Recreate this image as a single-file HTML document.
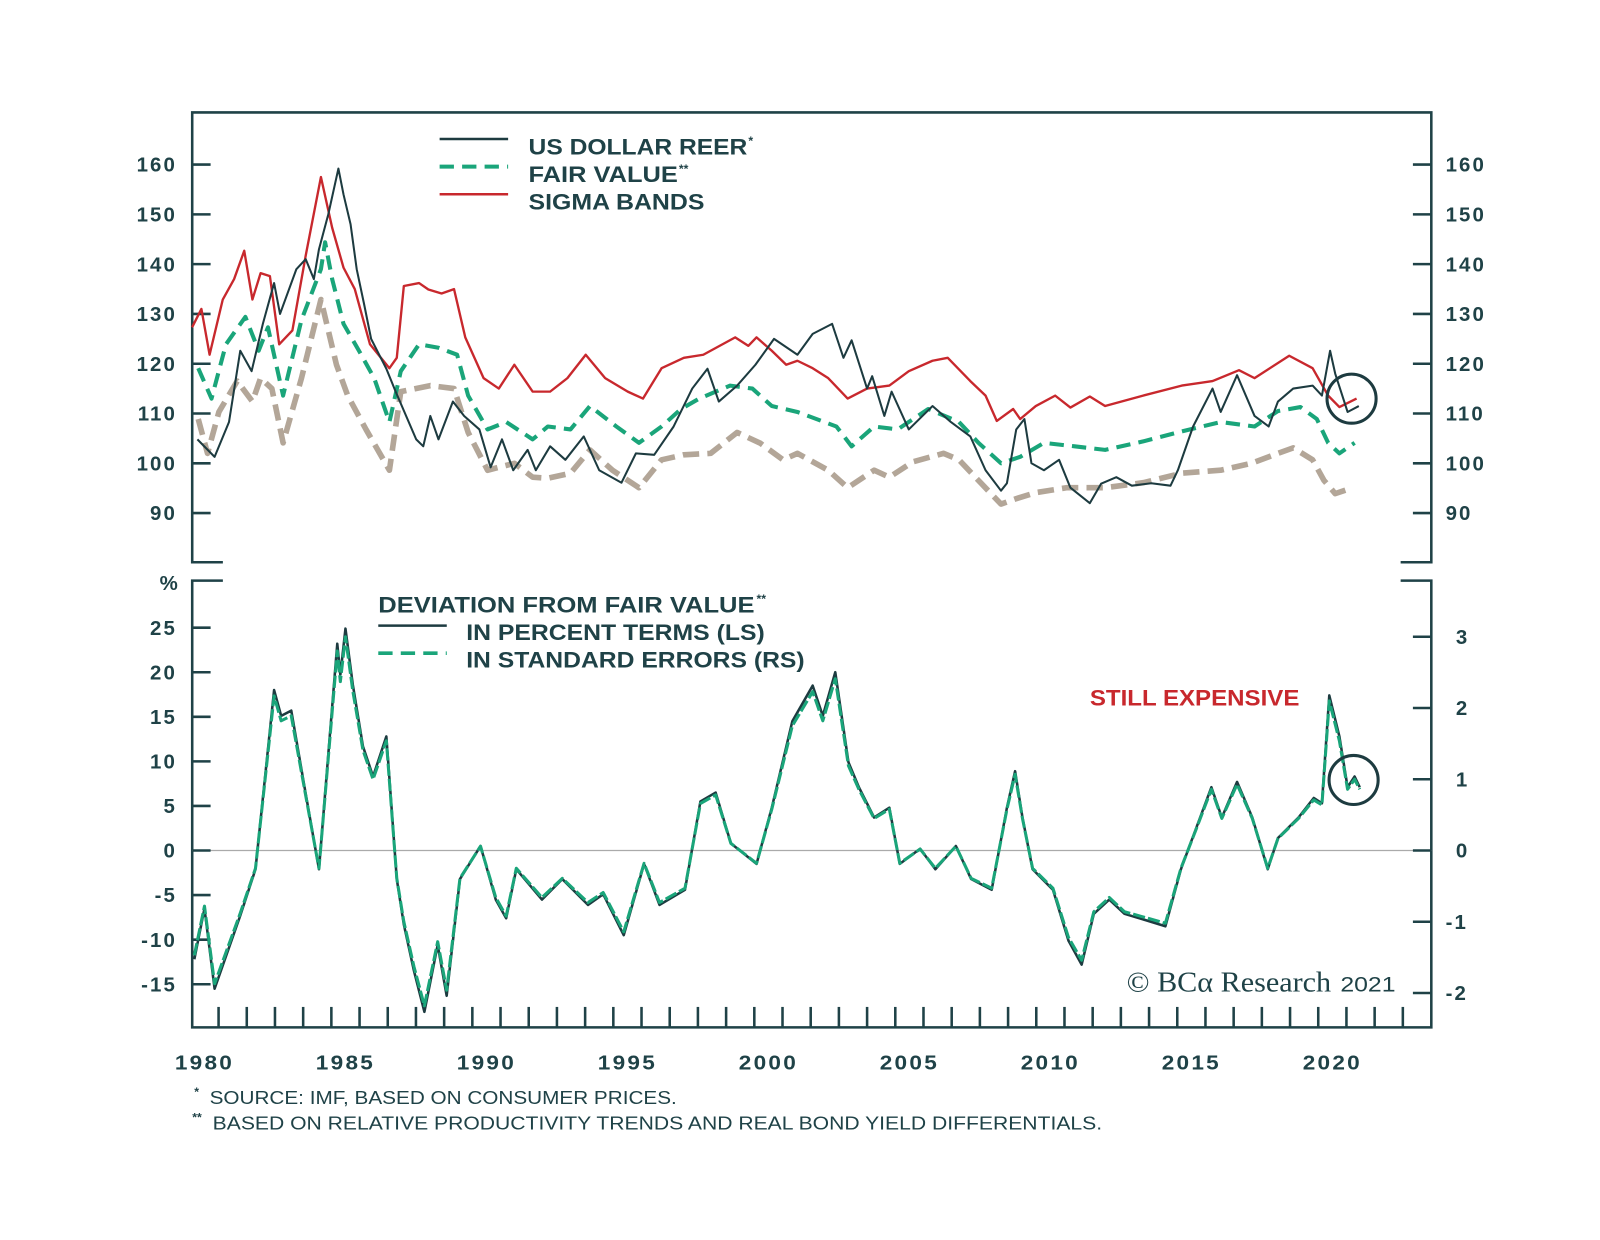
<!DOCTYPE html>
<html><head><meta charset="utf-8"><title>US Dollar REER vs Fair Value</title>
<style>
html,body{margin:0;padding:0;background:#fff;}
svg{display:block;}
text{font-family:"Liberation Sans",Arial,sans-serif;fill:#1f4247;}
.tk{font-size:20px;font-weight:bold;letter-spacing:2px;}
.lg{font-size:22px;font-weight:bold;}
.fn{font-size:18px;}
.ast{font-size:12px;font-weight:bold;}
</style></head>
<body>
<svg id="chart" width="1600" height="1240" viewBox="0 0 1565 1213" preserveAspectRatio="none" xmlns="http://www.w3.org/2000/svg">
  <g id="frame" stroke="#1f4247" stroke-width="2.5" fill="none">
    <path d="M218 550 H188 V110 H1400 V550 H1370"/>
    <path d="M218 568 H188 V1005 H1400 V568 H1370"/>
  </g>
  <line x1="188" x2="1400" y1="832" y2="832" stroke="#aaa" stroke-width="1.2"/>
  <g id="ticks"></g>
  <g id="series"></g>

  <g>
    <line x1="430" x2="497" y1="136" y2="136" stroke="#1d3b40" stroke-width="2.5"/>
    <text class="lg" x="517" y="151" textLength="214" lengthAdjust="spacingAndGlyphs">US DOLLAR REER</text>
    <text class="ast" x="732" y="142">*</text>
    <line x1="430" x2="497" y1="163" y2="163" stroke="#1aa57a" stroke-width="4" stroke-dasharray="14 8"/>
    <text class="lg" x="517" y="178" textLength="146" lengthAdjust="spacingAndGlyphs">FAIR VALUE</text>
    <text class="ast" x="664" y="169">**</text>
    <line x1="430" x2="497" y1="190" y2="190" stroke="#c8282d" stroke-width="2.5"/>
    <text class="lg" x="517" y="205" textLength="172" lengthAdjust="spacingAndGlyphs">SIGMA BANDS</text>
  </g>
  <g>
    <text class="lg" x="370" y="599" textLength="368" lengthAdjust="spacingAndGlyphs">DEVIATION FROM FAIR VALUE</text>
    <text class="ast" x="740" y="590">**</text>
    <line x1="370" x2="437" y1="612" y2="612" stroke="#1d3b40" stroke-width="2.5"/>
    <text class="lg" x="456" y="626" textLength="292" lengthAdjust="spacingAndGlyphs">IN PERCENT TERMS (LS)</text>
    <line x1="370" x2="437" y1="639" y2="639" stroke="#1aa57a" stroke-width="3.5" stroke-dasharray="14 8"/>
    <text class="lg" x="456" y="653" textLength="331" lengthAdjust="spacingAndGlyphs">IN STANDARD ERRORS (RS)</text>
  </g>
  <text x="1066" y="690" font-size="22" font-weight="bold" textLength="205" lengthAdjust="spacingAndGlyphs" style="fill:#c8282d">STILL EXPENSIVE</text>
  <circle cx="1322" cy="390" r="24" fill="none" stroke="#1d3b40" stroke-width="3"/>
  <circle cx="1324" cy="763" r="24" fill="none" stroke="#1d3b40" stroke-width="3"/>
  <text class="tk" x="166" y="577" text-anchor="middle">%</text>
  <text x="1102" y="970" style="font-family:'Liberation Serif',serif;font-size:28px;" textLength="200" lengthAdjust="spacingAndGlyphs">© BCα Research</text>
  <text x="1311" y="970" font-size="21" textLength="54" lengthAdjust="spacingAndGlyphs">2021</text>
  <text class="ast" x="190" y="1072">*</text>
  <text class="fn" x="205" y="1080" textLength="457" lengthAdjust="spacingAndGlyphs">SOURCE: IMF, BASED ON CONSUMER PRICES.</text>
  <text class="ast" x="188" y="1097">**</text>
  <text class="fn" x="208" y="1105" textLength="870" lengthAdjust="spacingAndGlyphs">BASED ON RELATIVE PRODUCTIVITY TRENDS AND REAL BOND YIELD DIFFERENTIALS.</text>
</svg>
<script>
// ---- data ----
const xTickYears = [1980,1985,1990,1995,2000,2005,2010,2015,2020];
const topTicks = [160,150,140,130,120,110,100,90];
const pctTicks = [25,20,15,10,5,0,-5,-10,-15];
const seTicks = [3,2,1,0,-1,-2];

const reerDates = [1979.75,1980.36,1980.87,1981.27,1981.67,1982.07,1982.47,1982.68,1983.26,1983.59,1983.88,1984.06,1984.39,1984.75,1984.93,1985.18,1985.4,1985.66,1985.91,1986.45,1986.78,1987.51,1987.76,1988.01,1988.3,1988.81,1989.21,1989.75,1990.15,1990.55,1990.95,1991.46,1991.75,1992.26,1992.8,1993.45,1994.0,1994.79,1995.3,1995.95,1996.64,1997.3,1997.84,1998.24,1998.89,1999.54,2000.2,2001.03,2001.57,2002.26,2002.66,2002.95,2003.5,2003.68,2004.11,2004.37,2004.98,2005.82,2006.47,2007.16,2007.7,2008.25,2008.46,2008.79,2009.08,2009.33,2009.77,2010.31,2010.71,2011.4,2011.8,2012.34,2012.89,2013.58,2014.26,2014.52,2015.06,2015.75,2016.04,2016.62,2017.24,2017.74,2018.07,2018.61,2019.3,2019.63,2019.92,2020.1,2020.54,2020.94];
const reerValues = [104.8,101.3,108.3,122.6,118.5,128,136.2,130,139,141,137,143,150,159.2,154,148,139,132,125,119,114.4,104.8,103.4,109.5,104.8,112.4,109.5,106.8,99.2,104.8,98.6,102.7,98.6,103.4,100.7,105.4,98.6,96.1,102,101.7,107.4,115,119,112.4,115.6,119.8,125,121.8,126,128,121.2,124.7,115,117.5,109.5,114.4,106.8,111.5,108.3,105.4,98.6,94.5,96,106.8,108.9,100,98.6,100.7,95.1,92,95.9,97.2,95.5,96,95.5,98.6,107.4,115,110.3,117.7,109.5,107.4,112.4,115,115.6,113.6,122.6,118,110.3,111.5];

const fvDates = [1979.78,1980.25,1980.76,1981.45,1981.92,1982.25,1982.79,1983.44,1984.13,1984.28,1984.53,1984.93,1985.48,1986.02,1986.56,1986.96,1987.61,1988.3,1988.96,1989.35,1990.04,1990.7,1991.64,1992.18,1992.98,1993.67,1994.61,1995.41,1996.21,1996.9,1997.55,1998.64,1999.43,2000.12,2001.03,2002.41,2002.95,2003.75,2004.58,2005.67,2006.76,2007.45,2008.25,2008.93,2009.77,2010.86,2011.94,2013.29,2014.66,2016.04,2017.24,2018.07,2018.87,2019.45,2019.85,2020.25,2020.79];
const fvValues = [119.1,113,123.9,129.4,122.6,127.3,113.6,128.8,139,144.4,137,128,122.6,117.1,108.3,118.5,123.9,123.2,121.8,113.6,106.8,108.3,104.8,107.4,106.8,111.5,107.4,104.1,107.4,110.9,113,115.6,115,111.5,110.3,107.4,103.4,107.4,106.8,110.9,108.3,104.1,100,101.3,104.1,103.4,102.7,104.4,106.4,108.3,107.4,110.5,111.3,108.9,104.1,102,104.1];

const upperDates = [1979.56,1979.89,1980.18,1980.65,1981.05,1981.41,1981.7,1981.99,1982.32,1982.65,1983.12,1983.59,1984.13,1984.53,1984.93,1985.33,1985.87,1986.56,1986.82,1987.07,1987.61,1987.94,1988.41,1988.85,1989.25,1989.9,1990.44,1990.99,1991.64,1992.26,1992.87,1993.52,1994.21,1995.01,1995.55,1996.21,1997.0,1997.69,1998.82,1999.29,1999.58,2000.12,2000.63,2001.03,2001.57,2002.12,2002.81,2003.5,2004.29,2004.98,2005.82,2006.36,2007.16,2007.7,2008.1,2008.68,2008.93,2009.48,2010.17,2010.71,2011.4,2011.94,2013.29,2014.66,2015.75,2016.69,2017.24,2018.47,2019.3,2019.85,2020.25,2020.86];
const upperValues = [127.3,131,121.8,132.9,137,142.7,132.9,138.2,137.6,123.9,126.7,141.7,157.5,147.3,139.3,135,123.9,119.1,121.2,135.6,136.2,134.9,134.1,135,125.3,117.1,115,119.8,114.4,114.4,117.1,121.8,117.1,114.4,113,119.1,121.2,121.8,125.3,123.6,125.3,122.6,119.8,120.6,119.1,117.1,113,115,115.6,118.5,120.6,121.2,116.5,113.6,108.5,110.9,108.9,111.5,113.6,111.2,113.4,111.5,113.6,115.6,116.5,118.7,117.1,121.6,119.1,113.6,111.3,113];

const lowerDates = [1979.78,1980.11,1980.51,1981.16,1981.7,1981.99,1982.39,1982.79,1983.44,1984.13,1984.68,1985.08,1985.73,1986.56,1986.96,1988.01,1988.85,1989.35,1990.04,1990.99,1991.64,1992.18,1992.98,1993.67,1994.47,1995.41,1996.21,1997.0,1997.95,1998.89,1999.72,2000.52,2001.03,2002.12,2002.81,2003.75,2004.29,2005.13,2006.21,2006.76,2007.56,2008.25,2008.79,2009.48,2010.57,2011.94,2013.29,2014.66,2016.04,2017.13,2018.07,2018.61,2019.3,2019.7,2020.1,2020.72];
const lowerValues = [108.9,102,110.3,116.5,112.4,117.1,115,104.1,117.1,132.9,119.8,113.6,106.8,98.6,114.4,115.6,115,106.2,98.6,100,97.2,97,98,102.7,98.6,95.1,100.7,101.7,102,106.2,104,100.7,102,98.6,95.1,98.6,97.2,100.3,102,100.7,95.9,91.8,92.9,94.1,95.1,95.1,96.1,98,98.6,100,102,103.1,100.7,96.6,93.9,95.1];

const devDates = [1979.64,1980.0,1980.36,1981.27,1981.81,1982.47,1982.72,1983.08,1983.55,1984.06,1984.71,1984.82,1985.0,1985.26,1985.62,1985.98,1986.45,1986.82,1987.07,1987.43,1987.8,1988.27,1988.59,1989.06,1989.79,1990.33,1990.7,1991.06,1991.97,1992.69,1993.6,1994.14,1994.87,1995.59,1996.14,1997.04,1997.59,1998.13,1998.67,1999.58,2000.12,2000.85,2001.57,2001.93,2002.37,2002.84,2003.21,2003.75,2004.29,2004.66,2005.38,2005.92,2006.65,2007.19,2007.92,2008.46,2008.75,2009.01,2009.37,2010.09,2010.64,2011.11,2011.54,2012.09,2012.63,2013.36,2014.08,2014.63,2015.17,2015.71,2016.08,2016.62,2017.16,2017.71,2018.07,2018.8,2019.34,2019.63,2019.89,2020.25,2020.54,2020.79,2020.97];
const devPctValues = [-12.2,-6.5,-15.5,-7.3,-2.1,18,15.1,15.7,7.1,-2.1,23.2,19.7,24.9,18.6,11.7,8.3,12.8,-3.2,-8.3,-13.5,-18.1,-10.6,-16.3,-3.2,0.5,-5.5,-7.6,-2.1,-5.5,-3.2,-6.1,-4.9,-9.5,-1.5,-6.1,-4.4,5.5,6.5,0.8,-1.5,4.8,14.5,18.5,15.1,20,9.9,7.1,3.7,4.8,-1.5,0.2,-2.1,0.5,-3.2,-4.4,4.8,8.9,3.7,-2.1,-4.4,-10.1,-12.8,-7.1,-5.5,-7.1,-7.8,-8.5,-2.1,2.5,7.1,3.7,7.7,3.7,-2.1,1.4,3.7,5.9,5.3,17.4,12.8,7.1,8.3,7.1];
const devSeValues = [-1.47,-0.78,-1.87,-0.88,-0.25,2.17,1.82,1.89,0.86,-0.25,2.8,2.37,3.0,2.24,1.41,1.0,1.54,-0.39,-1.0,-1.63,-2.18,-1.28,-1.96,-0.39,0.06,-0.66,-0.92,-0.25,-0.66,-0.39,-0.73,-0.59,-1.14,-0.18,-0.73,-0.53,0.66,0.78,0.1,-0.18,0.58,1.75,2.23,1.82,2.41,1.19,0.86,0.45,0.58,-0.18,0.02,-0.25,0.06,-0.39,-0.53,0.58,1.07,0.45,-0.25,-0.53,-1.22,-1.54,-0.86,-0.66,-0.86,-0.94,-1.02,-0.25,0.3,0.86,0.45,0.93,0.45,-0.25,0.17,0.45,0.71,0.64,2.1,1.54,0.86,1.0,0.86];

// ---- axes ----
function xPos(yr){ return 200 + (yr - 1980) * 27.58; }
function yTop(v){ return 161 + (160 - v) * 4.87; }
function yPct(p){ return 832 - p * 8.72; }
function ySe(s){ return 832 - s * 69.7; }

const NS = 'http://www.w3.org/2000/svg';
const ticksG = document.getElementById('ticks');
const seriesG = document.getElementById('series');
function mk(tag, attrs, parent){
  const e = document.createElementNS(NS, tag);
  for (const k in attrs) e.setAttribute(k, attrs[k]);
  parent.appendChild(e);
  return e;
}
const DARK = '#1f4247';

topTicks.forEach(v => {
  const y = yTop(v);
  const a = mk('line', {x1:188, x2:206, y1:y, y2:y, stroke:DARK, 'stroke-width':2.5}, ticksG);
  
  
  const b = mk('line', {x1:1382, x2:1400, y1:y, y2:y, stroke:DARK, 'stroke-width':2.5}, ticksG);
  
  
  const t1 = mk('text', {x:173, y:y+7, 'text-anchor':'end', class:'tk'}, ticksG);
  t1.textContent = v;
  
  
  const t2 = mk('text', {x:1414, y:y+7, class:'tk'}, ticksG);
  t2.textContent = v;
  
  
});
pctTicks.forEach(p => {
  const y = yPct(p);
  const a = mk('line', {x1:188, x2:206, y1:y, y2:y, stroke:DARK, 'stroke-width':2.5}, ticksG);
  
  
  const t = mk('text', {x:173, y:y+7, 'text-anchor':'end', class:'tk'}, ticksG);
  t.textContent = p;
  
  
});
seTicks.forEach(s => {
  const y = ySe(s);
  const a = mk('line', {x1:1382, x2:1400, y1:y, y2:y, stroke:DARK, 'stroke-width':2.5}, ticksG);
  
  
  const t = mk('text', {x:s < 0 ? 1414 : 1424, y:y+7, class:'tk'}, ticksG);
  t.textContent = s;
  
  
});
for (let yr = 1980; yr <= 2022; yr++) {
  const x = xPos(yr + 0.5);
  const l = mk('line', {x1:x, x2:x, y1:985, y2:1005, stroke:DARK, 'stroke-width':2.5}, ticksG);
  
  
}
xTickYears.forEach(yr => {
  const t = mk('text', {x:xPos(yr) - 29, y:1046, class:'tk', textLength:58, lengthAdjust:'spacingAndGlyphs'}, ticksG);
  t.textContent = yr;
  
  
});

function pathFrom(dates, vals, yf){
  const n = Math.min(dates.length, vals.length);
  let d = '';
  for (let i = 0; i < n; i++) d += (i ? 'L' : 'M') + xPos(dates[i]).toFixed(1) + ' ' + yf(vals[i]).toFixed(1);
  return d;
}
const pLower = mk('path', {d:pathFrom(lowerDates, lowerValues, yTop), fill:'none', stroke:'#b3a698', 'stroke-width':5.5, 'stroke-dasharray':'16 8', 'stroke-linejoin':'round'}, seriesG);


const pUpper = mk('path', {d:pathFrom(upperDates, upperValues, yTop), fill:'none', stroke:'#c8282d', 'stroke-width':2.3, 'stroke-linejoin':'round'}, seriesG);


const pFv = mk('path', {d:pathFrom(fvDates, fvValues, yTop), fill:'none', stroke:'#1aa57a', 'stroke-width':4, 'stroke-dasharray':'14 8', 'stroke-linejoin':'round'}, seriesG);


const pReer = mk('path', {d:pathFrom(reerDates, reerValues, yTop), fill:'none', stroke:'#1d3b40', 'stroke-width':2, 'stroke-linejoin':'round'}, seriesG);


const pPct = mk('path', {d:pathFrom(devDates, devPctValues, yPct), fill:'none', stroke:'#1d3b40', 'stroke-width':2.5, 'stroke-linejoin':'round'}, seriesG);


const pSe = mk('path', {d:pathFrom(devDates, devSeValues, ySe), fill:'none', stroke:'#1aa57a', 'stroke-width':3, 'stroke-dasharray':'12 3', 'stroke-linejoin':'round'}, seriesG);


</script>
</body></html>
